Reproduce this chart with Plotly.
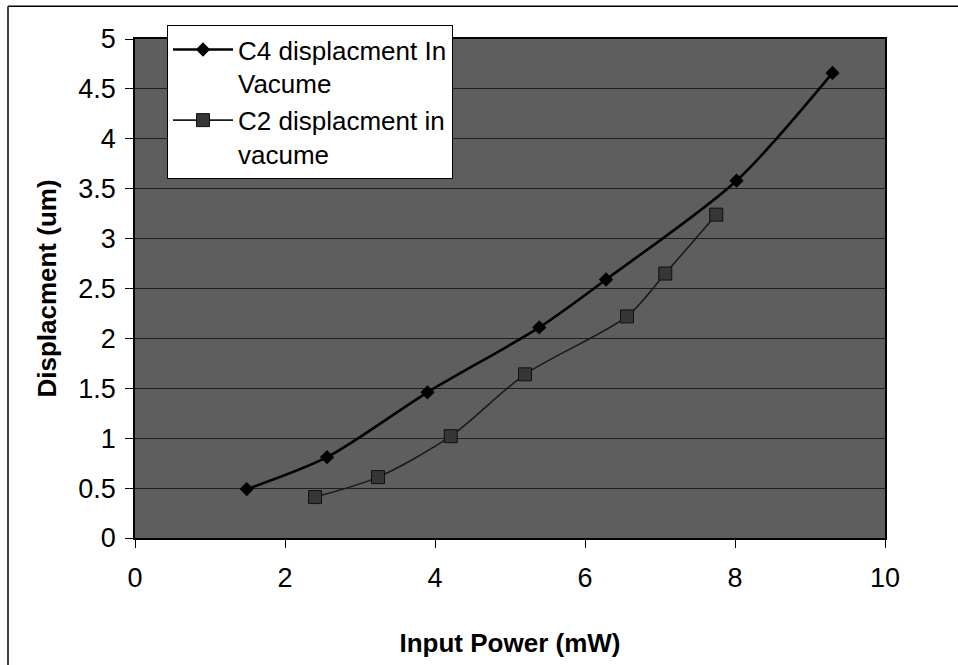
import plotly.graph_objects as go

# Measured displacement versus input power, two cantilevers in vacuum
c4_power = [1.49, 2.56, 3.90, 5.39, 6.28, 8.02, 9.30]
c4_disp = [0.49, 0.81, 1.46, 2.11, 2.59, 3.58, 4.66]

c2_power = [2.40, 3.24, 4.21, 5.20, 6.56, 7.07, 7.75]
c2_disp = [0.41, 0.61, 1.02, 1.64, 2.22, 2.65, 3.24]

x_ticks = [0, 2, 4, 6, 8, 10]
y_ticks = [0, 0.5, 1, 1.5, 2, 2.5, 3, 3.5, 4, 4.5, 5]

FONT = "Arial, Liberation Sans, sans-serif"

fig = go.Figure()

fig.add_trace(go.Scatter(
    x=c4_power, y=c4_disp,
    name="C4 displacment In<br>Vacume",
    mode="lines+markers",
    line=dict(color="#000000", width=2.6, shape="spline", smoothing=0.8),
    marker=dict(symbol="diamond", size=11, color="#000000"),
))

fig.add_trace(go.Scatter(
    x=c2_power, y=c2_disp,
    name="C2 displacment in<br>vacume",
    mode="lines+markers",
    line=dict(color="#1a1a1a", width=1.6, shape="spline", smoothing=0.8),
    marker=dict(symbol="square", size=13, color="#363636",
                line=dict(color="#111111", width=1)),
))

W, H = 958, 665
L, R, T, B = 135, 885, 39, 542
pw, ph = R - L, B - T


def px_x(v):
    return (v - L) / pw


def px_y(v):
    return (B - v) / ph


# Outer chart frame (top and left edges)
fig.add_shape(type="line", xref="paper", yref="paper",
              x0=px_x(8), x1=px_x(W + 5), y0=px_y(6), y1=px_y(6),
              line=dict(color="#000000", width=1.5))
fig.add_shape(type="line", xref="paper", yref="paper",
              x0=px_x(8), x1=px_x(8), y0=px_y(6), y1=px_y(H + 5),
              line=dict(color="#000000", width=1.5))

fig.update_layout(
    width=W, height=H,
    margin=dict(l=L, r=W - R, t=T, b=H - B),
    paper_bgcolor="#ffffff",
    plot_bgcolor="#5e5e5e",
    font=dict(family=FONT, color="#000000", size=27),
    showlegend=True,
    legend=dict(
        x=px_x(167), y=px_y(25), xanchor="left", yanchor="top",
        bgcolor="#ffffff", bordercolor="#000000", borderwidth=1,
        font=dict(family=FONT, size=26, color="#000000"),
        valign="top", tracegroupgap=0, itemwidth=60,
    ),
)

fig.update_xaxes(
    range=[0, 10], tickvals=x_ticks, ticktext=[str(v) for v in x_ticks],
    ticks="outside", ticklen=8, tickcolor="#000000", tickwidth=1,
    showline=True, linecolor="#000000", linewidth=1.5, mirror=True,
    showgrid=False, zeroline=False,
    tickfont=dict(family=FONT, size=27), ticklabelstandoff=7,
    title=dict(text="<b>Input Power (mW)</b>",
               font=dict(family=FONT, size=26), standoff=42),
)

fig.update_yaxes(
    range=[0, 5], tickvals=y_ticks, ticktext=[f"{v:g}" for v in y_ticks],
    ticks="outside", ticklen=8, tickcolor="#000000", tickwidth=1,
    showline=True, linecolor="#000000", linewidth=1.5, mirror=True,
    showgrid=True, gridcolor="#1e1e1e", gridwidth=1, zeroline=False,
    tickfont=dict(family=FONT, size=27), ticklabelstandoff=4,
    title=dict(text="<b>Displacment (um)</b>",
               font=dict(family=FONT, size=26), standoff=14),
)

fig.write_html("out.html")
